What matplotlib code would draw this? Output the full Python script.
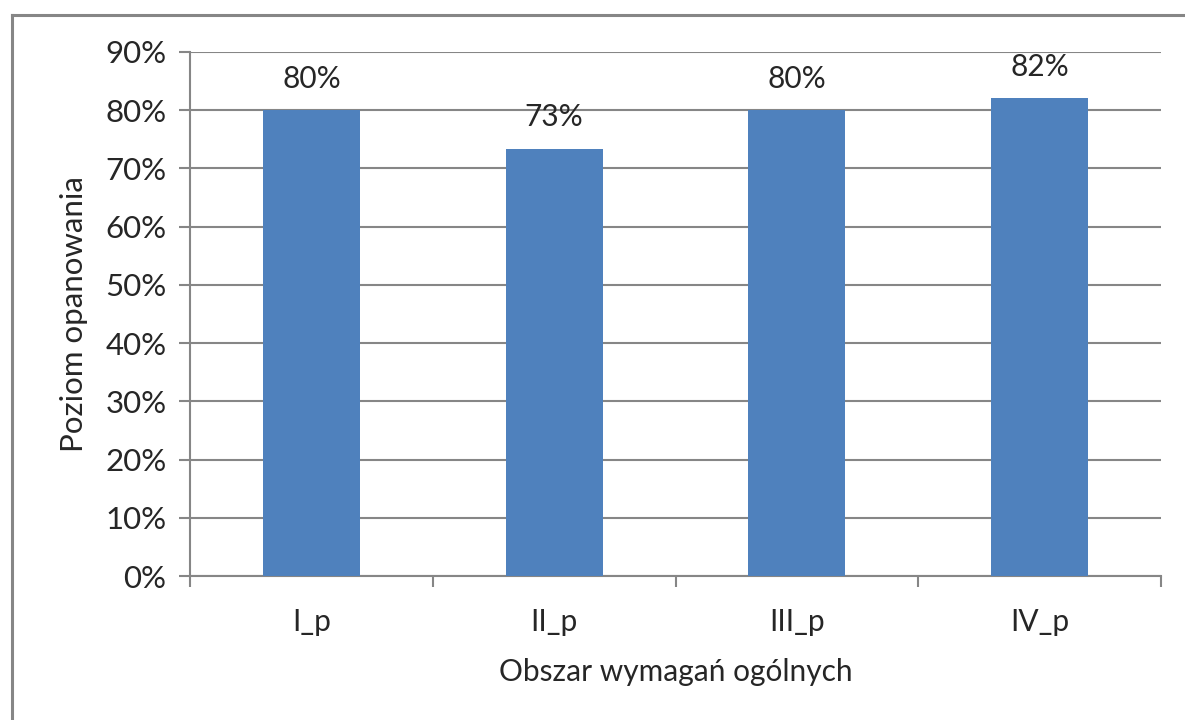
import matplotlib
matplotlib.use("Agg")
import matplotlib.pyplot as plt
from matplotlib.lines import Line2D
from matplotlib.ticker import FuncFormatter, MultipleLocator, FixedLocator

categories = ["I_p", "II_p", "III_p", "IV_p"]
values = [0.800, 0.734, 0.800, 0.821]
labels = ["80%", "73%", "80%", "82%"]
y_label = "Poziom opanowania"
x_label = "Obszar wymagań ogólnych"

plt.rcParams['font.family'] = ['Lato', 'DejaVu Sans']

fig = plt.figure(figsize=(11.85, 7.2), dpi=100)
ax = fig.add_axes([190/1185, 1-576/720, (1161-190)/1185, (576-52)/720])

grid_c = "#868686"
bar_c = "#4F81BD"
txt_c = "#262626"
fs = 21.5
x = list(range(len(categories)))
bars = ax.bar(x, values, width=0.4, color=bar_c, zorder=3)
for b, lab in zip(bars, labels):
    ax.text(b.get_x() + b.get_width()/2, b.get_height() + 0.03, lab,
            ha="center", va="bottom", fontsize=fs, color=txt_c)

ax.set_xlim(-0.5, len(categories) - 0.5)
ax.set_ylim(0, 0.9)
ax.yaxis.set_major_locator(MultipleLocator(0.1))
ax.yaxis.set_major_formatter(FuncFormatter(lambda v, p: f"{v*100:.0f}%"))
ax.set_xticks(x)
ax.set_xticklabels(categories)
ax.xaxis.set_minor_locator(FixedLocator([i - 0.5 for i in range(len(categories) + 1)]))
ax.tick_params(axis="x", which="major", length=0, pad=23, labelsize=fs, labelcolor=txt_c)
ax.tick_params(axis="x", which="minor", length=8, width=1.5, color=grid_c, direction="out")
ax.tick_params(axis="y", length=8, width=1.5, color=grid_c, labelsize=fs + 1, labelcolor=txt_c, pad=9)

ax.grid(axis="y", color=grid_c, linewidth=1.5, zorder=0)
for s in ["top", "right"]:
    ax.spines[s].set_visible(False)
for s in ["left", "bottom"]:
    ax.spines[s].set_color(grid_c)
    ax.spines[s].set_linewidth(1.5)

ax.set_ylabel(y_label, fontsize=fs + 1, color=txt_c, labelpad=12)
ax.set_xlabel(x_label, fontsize=fs, color=txt_c, labelpad=16)

# figure frame (chart area border)
fig.add_artist(Line2D([12/1185, 12/1185], [0, 1-15/720], transform=fig.transFigure, color=grid_c, linewidth=2.2))
fig.add_artist(Line2D([12/1185, 1], [1-15/720, 1-15/720], transform=fig.transFigure, color=grid_c, linewidth=2.2))

fig.savefig("out.png", dpi=100)
